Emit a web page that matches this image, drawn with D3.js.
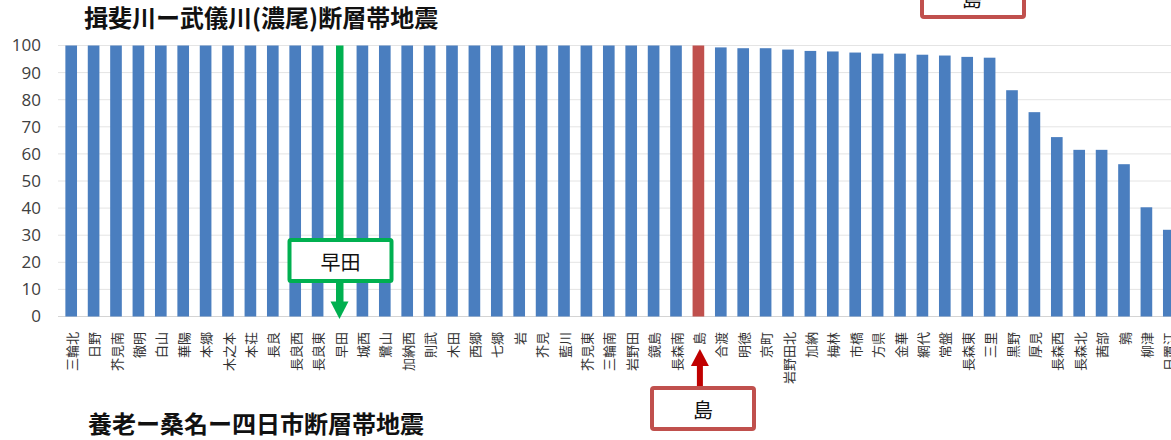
<!DOCTYPE html>
<html>
<head>
<meta charset="utf-8">
<script src="https://cdn.jsdelivr.net/npm/d3@7"></script>
<style>
  html, body { margin: 0; padding: 0; background: #ffffff; }
  svg { display: block; }
</style>
</head>
<body>
<div id="chart"></div>
<script>
const categories = ["三輪北","日野","芥見南","徹明","白山","華陽","本郷","木之本","本荘","長良",
  "長良西","長良東","早田","城西","鷺山","加納西","則武","木田","西郷","七郷",
  "岩","芥見","藍川","芥見東","三輪南","岩野田","鏡島","長森南","島","合渡",
  "明徳","京町","岩野田北","加納","梅林","市橋","方県","金華","網代","常盤",
  "長森東","三里","黒野","厚見","長森西","長森北","茜部","鶉","柳津","日置江"];
const values = [100,100,100,100,100,100,100,100,100,100,
  100,100,100,100,100,100,100,100,100,100,
  100,100,100,100,100,100,100,100,100,99.3,
  99,99,98.5,98,97.8,97.4,97,97,96.6,96.3,
  95.8,95.5,83.5,75.4,66.2,61.5,61.5,56.2,40.3,32];
const yTicks = [0,10,20,30,40,50,60,70,80,90,100];
const titleTop = "揖斐川ー武儀川(濃尾)断層帯地震";
const titleBottom = "養老ー桑名ー四日市断層帯地震";
const greenCategory = "早田";
const redCategory = "島";

const W = 1171, H = 440;
const blue = "#4a7ebf", red = "#c0504d", green = "#00b050";
const cjk = "'Noto Sans CJK JP', 'Noto Sans', sans-serif";

const svg = d3.select("#chart").append("svg").attr("width", W).attr("height", H);
svg.append("rect").attr("width", W).attr("height", H).attr("fill", "#fff");

const x = d3.scaleBand().domain(categories).range([60, 1180]).paddingInner(0.48).paddingOuter(0.24);
const y = d3.scaleLinear().domain([0, 100]).range([316.5, 45.5]);

// gridlines
svg.append("g").selectAll("line").data(yTicks.filter(d => d > 0)).join("line")
  .attr("x1", 58).attr("x2", W).attr("y1", d => y(d)).attr("y2", d => y(d))
  .attr("stroke", "#e4e4e4").attr("stroke-width", 1);
svg.append("line").attr("x1", 58).attr("x2", W).attr("y1", y(0)).attr("y2", y(0))
  .attr("stroke", "#d4d4d4").attr("stroke-width", 1);

// y axis labels
const yAxis = d3.axisLeft(y).tickValues(yTicks).tickSize(0).tickPadding(0);
const yg = svg.append("g").attr("transform", "translate(41,0)").call(yAxis);
yg.select(".domain").remove();
yg.selectAll("text").attr("font-family", "'Open Sans', 'Liberation Sans', sans-serif")
  .attr("font-size", 17).attr("fill", "#404040");

// bars
const data = categories.map((c, i) => ({ c, v: values[i] }));
svg.append("g").selectAll("rect").data(data).join("rect")
  .attr("x", d => d.c === greenCategory ? x(d.c) + x.bandwidth() / 2 - 4 : x(d.c))
  .attr("width", d => d.c === greenCategory ? 7.5 : x.bandwidth())
  .attr("y", d => y(d.v))
  .attr("height", d => y(0) - y(d.v) - (d.c === greenCategory ? 14 : 0))
  .attr("fill", d => d.c === redCategory ? red : d.c === greenCategory ? green : blue);

// x labels (rotated)
svg.append("g").selectAll("text").data(categories).join("text")
  .attr("transform", d => `translate(${x(d) + x.bandwidth() / 2},332) rotate(-90)`)
  .attr("text-anchor", "end").attr("dominant-baseline", "central")
  .attr("font-family", cjk).attr("font-size", 13).attr("fill", "#333")
  .text(d => d);

// green arrow head + box
const gx = x(greenCategory) + x.bandwidth() / 2 - 0.5;
svg.append("path")
  .attr("d", `M${gx - 9},${y(0) - 15} L${gx + 9},${y(0) - 15} L${gx},${y(0) + 2.5} Z`)
  .attr("fill", green);
svg.append("rect").attr("x", gx - 50).attr("y", 240).attr("width", 102).attr("height", 41)
  .attr("fill", "#fff").attr("stroke", green).attr("stroke-width", 4).attr("rx", 1.5);
svg.append("text").attr("x", gx + 1).attr("y", 261).attr("text-anchor", "middle")
  .attr("dominant-baseline", "central").attr("font-family", cjk).attr("font-size", 20)
  .attr("fill", "#111").text(greenCategory);

// red arrow + box (bottom)
const rx = x(redCategory) + x.bandwidth() / 2 + 1.5;
svg.append("rect").attr("x", rx - 3).attr("y", 364).attr("width", 6).attr("height", 24).attr("fill", "#c00000");
svg.append("path")
  .attr("d", `M${rx - 9},${366} L${rx + 9},${366} L${rx},${349} Z`).attr("fill", "#c00000");
svg.append("rect").attr("x", 652).attr("y", 388).attr("width", 102).attr("height", 41)
  .attr("fill", "#fff").attr("stroke", red).attr("stroke-width", 4).attr("rx", 2);
svg.append("text").attr("x", 703).attr("y", 409).attr("text-anchor", "middle")
  .attr("dominant-baseline", "central").attr("font-family", cjk).attr("font-size", 20)
  .attr("fill", "#111").text(redCategory);

// red box (top-right, cut off at the top edge as in the source)
svg.append("rect").attr("x", 922).attr("y", -26).attr("width", 102).attr("height", 43)
  .attr("fill", "#fff").attr("stroke", red).attr("stroke-width", 4).attr("rx", 2);
svg.append("text").attr("x", 972).attr("y", -2).attr("text-anchor", "middle")
  .attr("dominant-baseline", "central").attr("font-family", cjk).attr("font-size", 20)
  .attr("fill", "#111").text(redCategory);

// titles
svg.append("text").attr("x", 84).attr("y", 27).attr("font-family", cjk).attr("font-weight", 700)
  .attr("font-size", 24).attr("fill", "#111").text(titleTop);
svg.append("text").attr("x", 88).attr("y", 433).attr("font-family", cjk).attr("font-weight", 700)
  .attr("font-size", 24).attr("fill", "#111").text(titleBottom);
</script>
</body>
</html>
